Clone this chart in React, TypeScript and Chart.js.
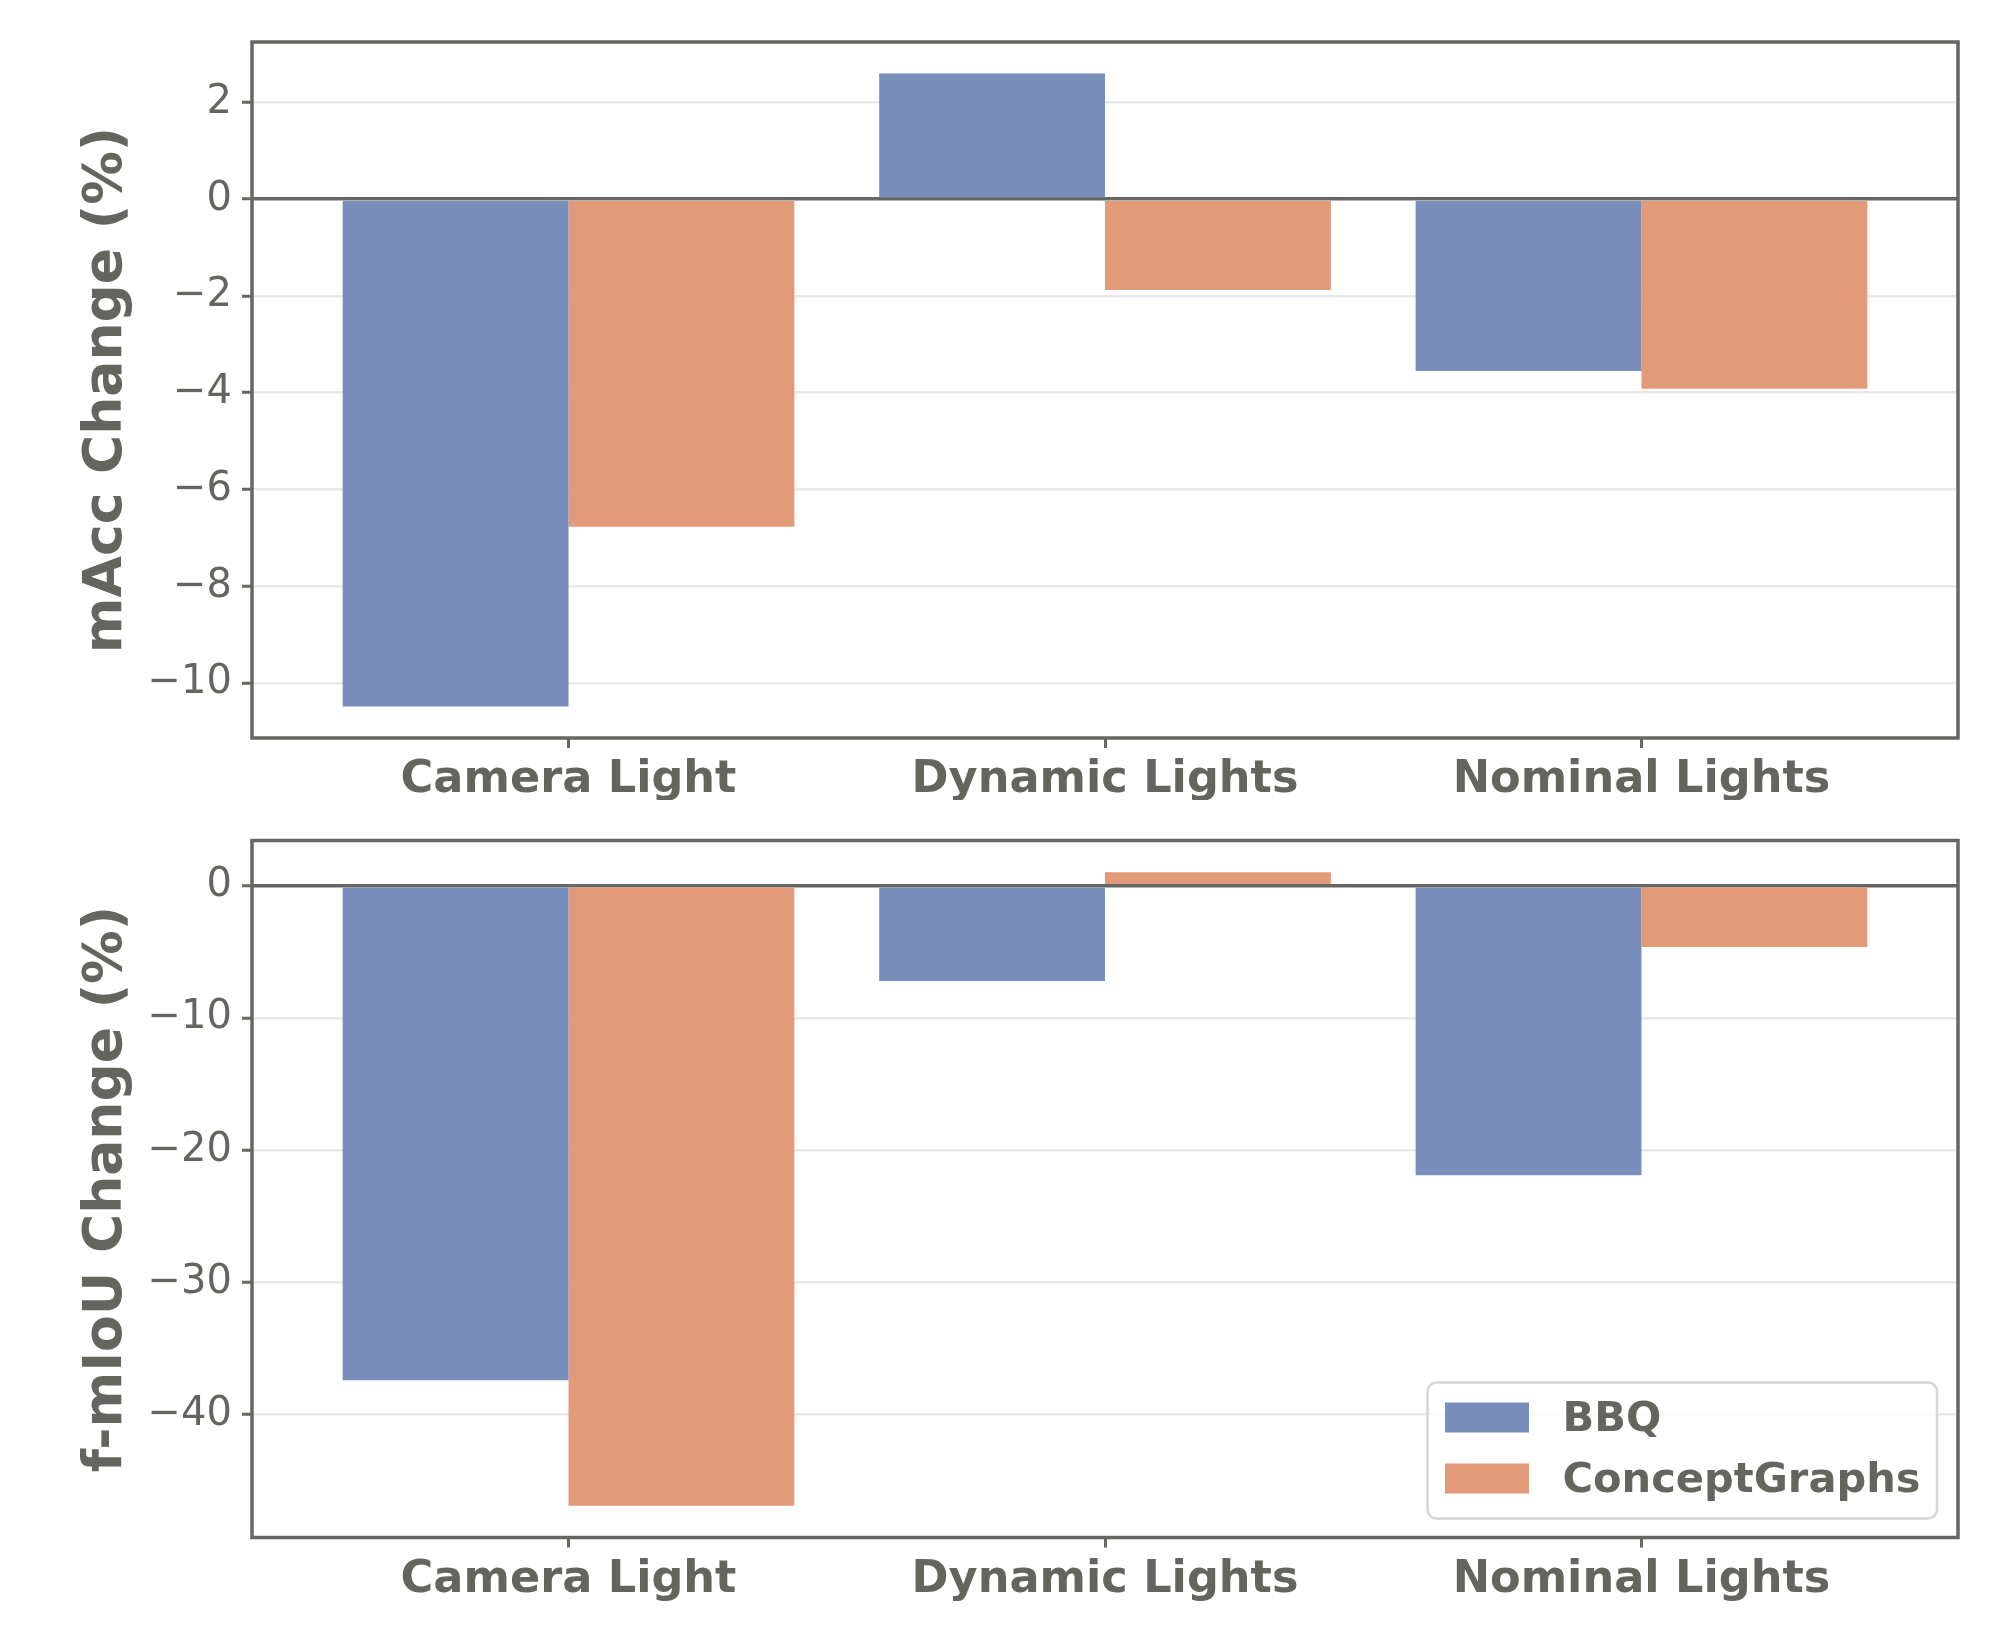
import React, { useEffect, useRef } from 'react';
import { Chart, registerables } from 'chart.js';

Chart.register(...registerables);

// ---- data ----
const categories = ['Camera Light', 'Dynamic Lights', 'Nominal Lights'];
const seriesNames = ['BBQ', 'ConceptGraphs'];
const maccBBQ = [-10.49, 2.6, -3.55];
const maccCG = [-6.77, -1.88, -3.92];
const fmiouBBQ = [-37.4, -7.2, -21.9];
const fmiouCG = [-46.9, 1.03, -4.62];
const maccTicks = [-10, -8, -6, -4, -2, 0, 2];
const fmiouTicks = [-40, -30, -20, -10, 0];
const maccRange = [-11.14, 3.25];
const fmiouRange = [-49.3, 3.43];
const xRange = [-0.59, 2.59];
const seriesColors = ['#788EBB', '#E29A78'];
const yTitles = ['mAcc Change (%)', 'f-mIoU Change (%)'];

const FONT = '"DejaVu Sans", sans-serif';
const TEXT = '#656560';
const AXIS = '#666662';
const GRID = 'rgba(190,190,190,0.36)';

const framePlugin = {
  id: 'frame',
  afterDraw(chart: any) {
    const { ctx, chartArea: a } = chart;
    ctx.save();
    ctx.strokeStyle = AXIS;
    ctx.lineWidth = 3.5;
    ctx.strokeRect(a.left, a.top, a.right - a.left, a.bottom - a.top);
    ctx.restore();
  },
};

const boxLegendPlugin = {
  id: 'boxLegend',
  afterDraw(chart: any, _args: any, opts: any) {
    if (!opts || !opts.show) return;
    const { ctx, chartArea: a } = chart;
    const w = 509.5;
    const h = 136;
    const right = a.right - 21;
    const bottom = a.bottom - 19;
    const left = right - w;
    const top = bottom - h;
    ctx.save();
    ctx.beginPath();
    ctx.roundRect(left, top, w, h, 9);
    ctx.fillStyle = 'rgba(255,255,255,0.8)';
    ctx.fill();
    ctx.lineWidth = 2.5;
    ctx.strokeStyle = '#d6d6d6';
    ctx.stroke();
    chart.data.datasets.forEach((ds: any, i: number) => {
      const cy = top + 35 + i * 61;
      ctx.fillStyle = ds.backgroundColor;
      ctx.fillRect(left + 17.5, cy - 15, 84, 30);
      ctx.font = `bold 41.6px ${FONT}`;
      ctx.fillStyle = TEXT;
      ctx.textBaseline = 'alphabetic';
      ctx.textAlign = 'left';
      ctx.fillText(ds.label, left + 135, cy + 13.5);
    });
    ctx.restore();
  },
};

const fmtTick = (v: number) => (v < 0 ? '\u2212' + Math.abs(v) : String(v));

function makeConfig(
  bbq: number[],
  cg: number[],
  yTicks: number[],
  yRange: number[],
  title: string,
  padTop: number,
  xHeight: number,
  showLegend: boolean
): any {
  const values = [bbq, cg];
  return {
    type: 'bar',
    data: {
      datasets: seriesNames.map((name, i) => ({
        label: name,
        data: values[i].map((y, j) => ({ x: j, y })),
        backgroundColor: seriesColors[i],
        borderWidth: 0,
        categoryPercentage: 0.842,
        barPercentage: 1.0,
      })),
    },
    options: {
      responsive: false,
      animation: false,
      devicePixelRatio: 1,
      layout: { padding: { top: padTop, right: 42, left: 0, bottom: 0 } },
      plugins: {
        legend: { display: false },
        tooltip: { enabled: false },
        boxLegend: { show: showLegend },
      },
      scales: {
        x: {
          type: 'linear',
          min: xRange[0],
          max: xRange[1],
          offset: false,
          afterBuildTicks: (s: any) => {
            s.ticks = categories.map((_, i) => ({ value: i }));
          },
          ticks: {
            callback: (v: any) => categories[v] ?? '',
            font: { family: FONT, size: 44.6, weight: 'bold' },
            color: TEXT,
            padding: 6,
            maxRotation: 0,
            autoSkip: false,
          },
          grid: {
            display: true,
            drawOnChartArea: false,
            drawTicks: true,
            tickLength: 10,
            tickColor: AXIS,
            tickWidth: 3,
            offset: false,
          },
          border: { display: false },
          afterFit: (s: any) => {
            s.height = xHeight;
          },
        },
        y: {
          type: 'linear',
          min: yRange[0],
          max: yRange[1],
          z: 1,
          afterBuildTicks: (s: any) => {
            s.ticks = yTicks.map((v) => ({ value: v }));
          },
          ticks: {
            callback: (v: any) => fmtTick(v),
            font: { family: FONT, size: 40 },
            color: TEXT,
            padding: 10,
          },
          grid: {
            color: (c: any) => (c.tick && c.tick.value === 0 ? AXIS : GRID),
            lineWidth: (c: any) => (c.tick && c.tick.value === 0 ? 3.5 : 2.5),
            tickColor: AXIS,
            tickWidth: 3,
            tickLength: 10,
          },
          border: { display: false },
          title: {
            display: true,
            text: title,
            font: { family: FONT, size: 53.5, weight: 'bold', lineHeight: 1.2 },
            color: TEXT,
            padding: { top: 75.5, bottom: 0 },
          },
          afterFit: (s: any) => {
            s.width = 252;
          },
        },
      },
    },
    plugins: [framePlugin, boxLegendPlugin],
  };
}

export default function App() {
  const topRef = useRef<HTMLCanvasElement | null>(null);
  const botRef = useRef<HTMLCanvasElement | null>(null);

  useEffect(() => {
    document.body.style.margin = '0';
    const c1 = new Chart(
      topRef.current as HTMLCanvasElement,
      makeConfig(maccBBQ, maccCG, maccTicks, maccRange, yTitles[0], 42, 62, false)
    );
    const c2 = new Chart(
      botRef.current as HTMLCanvasElement,
      makeConfig(fmiouBBQ, fmiouCG, fmiouTicks, fmiouRange, yTitles[1], 40.5, 102.5, true)
    );
    return () => {
      c1.destroy();
      c2.destroy();
    };
  }, []);

  return (
    <div style={{ position: 'absolute', left: 0, top: 0, width: 2000, height: 1640, background: '#fff' }}>
      <canvas
        ref={topRef}
        width={2000}
        height={800}
        style={{ position: 'absolute', left: 0, top: 0, width: 2000, height: 800, display: 'block' }}
      />
      <canvas
        ref={botRef}
        width={2000}
        height={840}
        style={{ position: 'absolute', left: 0, top: 800, width: 2000, height: 840, display: 'block' }}
      />
    </div>
  );
}
